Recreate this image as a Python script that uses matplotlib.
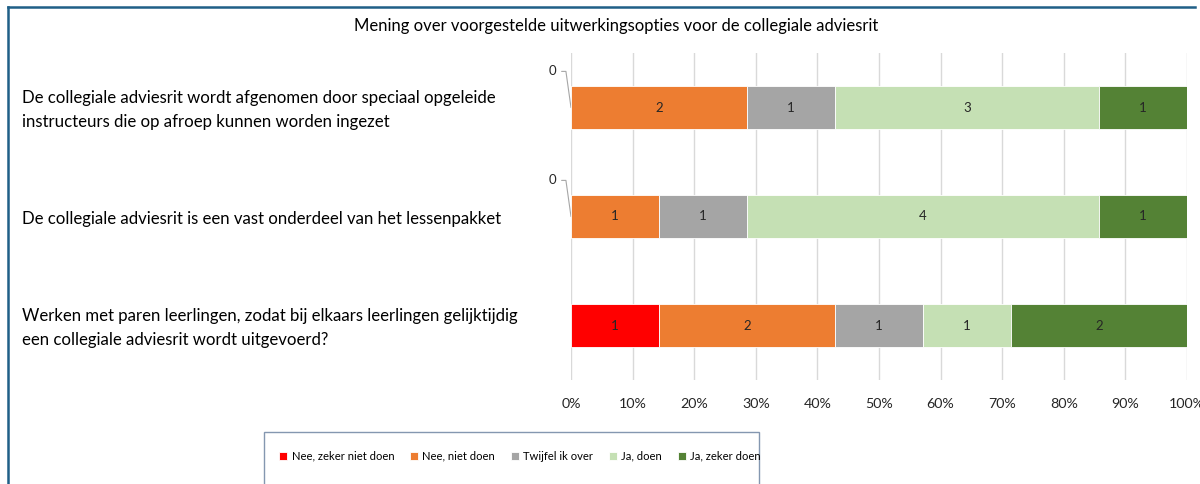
import matplotlib
matplotlib.use("Agg")
import matplotlib.pyplot as plt
import matplotlib.transforms as mtransforms
from matplotlib.lines import Line2D
from matplotlib.patches import Rectangle
import numpy as np

plt.rcParams['font.family'] = ['Lato', 'DejaVu Sans']

title = "Mening over voorgestelde uitwerkingsopties voor de collegiale adviesrit"
categories = [
    "De collegiale adviesrit wordt afgenomen door speciaal opgeleide\ninstructeurs die op afroep kunnen worden ingezet",
    "De collegiale adviesrit is een vast onderdeel van het lessenpakket",
    "Werken met paren leerlingen, zodat bij elkaars leerlingen gelijktijdig\neen collegiale adviesrit wordt uitgevoerd?",
]
series_names = ["Nee, zeker niet doen", "Nee, niet doen", "Twijfel ik over", "Ja, doen", "Ja, zeker doen"]
nee_zeker = [0, 0, 1]
nee = [2, 1, 2]
twijfel = [1, 1, 1]
ja = [3, 4, 1]
ja_zeker = [1, 1, 2]
colors = ["#FF0000", "#ED7D31", "#A5A5A5", "#C5E0B4", "#548235"]
tick_vals = [0, 0.1, 0.2, 0.3, 0.4, 0.5, 0.6, 0.7, 0.8, 0.9, 1.0]
tick_labels = ["0%", "10%", "20%", "30%", "40%", "50%", "60%", "70%", "80%", "90%", "100%"]

data = np.array([nee_zeker, nee, twijfel, ja, ja_zeker], dtype=float)
totals = data.sum(axis=0)
shares = data / totals

fig = plt.figure(figsize=(12, 4.84), dpi=100)
ax = fig.add_axes([571/1200, 1-380/484, (1187-571)/1200, (380-53)/484])

y = np.arange(len(categories))
left = np.zeros(len(categories))
for k in range(len(series_names)):
    ax.barh(y, shares[k], left=left, height=0.4, color=colors[k],
            edgecolor='white', linewidth=0.6, label=series_names[k], zorder=3)
    for i in range(len(categories)):
        if data[k, i] > 0:
            ax.text(left[i] + shares[k, i]/2, y[i], f"{int(data[k, i])}",
                    ha='center', va='center', fontsize=9.5, color='#262626', zorder=4)
        elif k == 0:
            ax.annotate("0", xy=(0, y[i]), xytext=(-13.5, 26), textcoords='offset points',
                        ha='center', va='center', fontsize=9.5, color='#262626',
                        arrowprops=dict(arrowstyle='-', color='#A6A6A6', lw=0.8,
                                        shrinkA=2, shrinkB=0, relpos=(1, 0.5),
                                        connectionstyle="angle,angleA=0,angleB=98,rad=0"))
    left += shares[k]

ax.set_xlim(0, 1)
ax.set_ylim(len(categories)-0.5, -0.5)
ax.set_xticks(tick_vals)
ax.set_xticklabels(tick_labels, fontsize=10.3, color='#262626')
ax.tick_params(axis='x', length=0, pad=13)
ax.set_yticks([])
ax.grid(axis='x', color='#D9D9D9', linewidth=1, zorder=0)
for s in ax.spines.values():
    s.set_visible(False)

trans = mtransforms.blended_transform_factory(fig.transFigure, ax.transData)
for i, c in enumerate(categories):
    ax.text(22/1200, y[i] + 0.025, c, transform=trans, ha='left', va='center',
            fontsize=12.1, color='#000000', linespacing=1.65)

fig.text(616/1200, 1-26/484, title, ha='center', va='center', fontsize=12, color='#000000')

# chart frame
fig.add_artist(Line2D([8/1200, 8/1200], [0, 1-7/484], transform=fig.transFigure,
                      color='#1F5F87', linewidth=1.8))
fig.add_artist(Line2D([8/1200, 1195/1200], [1-7/484, 1-7/484], transform=fig.transFigure,
                      color='#1F5F87', linewidth=1.8))

# legend box
fig.add_artist(Rectangle((264/1200, -0.05), (759-264)/1200, (0.05 + 1-432/484),
                         transform=fig.transFigure, fill=False, edgecolor='#8497B0', linewidth=1))
handles, labels = ax.get_legend_handles_labels()
fig.legend(handles, labels, loc='center', bbox_to_anchor=(520/1200, 1-456/484), ncol=5,
           frameon=False, fontsize=8.1, handlelength=0.7, handleheight=0.7,
           handletextpad=0.4, columnspacing=1.4)

fig.savefig("out.png", dpi=100)
